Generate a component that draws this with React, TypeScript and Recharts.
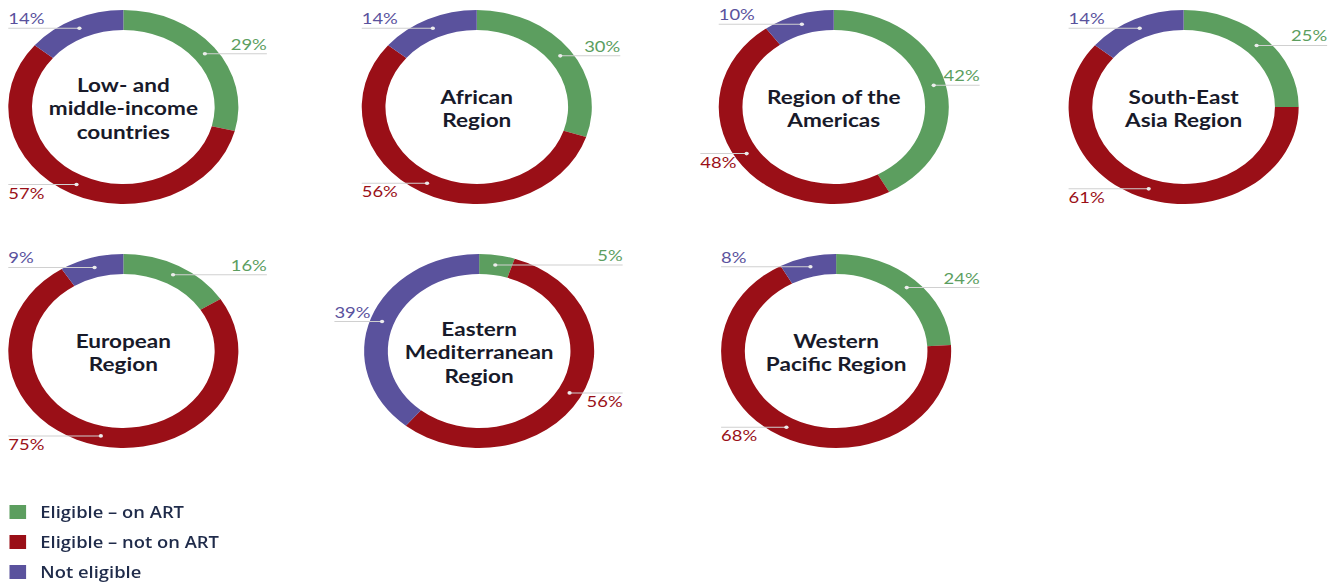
import React from 'react';
import { Cell, Legend, Pie, PieChart } from 'recharts';

// region titles, one entry per donut (line breaks as in the source)
const regions = [
  ['Low- and', 'middle-income', 'countries'],
  ['African', 'Region'],
  ['Region of the', 'Americas'],
  ['South-East', 'Asia Region'],
  ['European', 'Region'],
  ['Eastern', 'Mediterranean', 'Region'],
  ['Western', 'Pacific Region'],
];
const categories = ['Eligible – on ART', 'Eligible – not on ART', 'Not eligible'];
const onArt = [29, 30, 42, 25, 16, 5, 24];
const notOnArt = [57, 56, 48, 61, 75, 56, 68];
const notEligible = [14, 14, 10, 14, 9, 39, 8];

const COLORS = ['#5c9e5f', '#9a0f17', '#5a529d'];

// the source picture is stretched sideways, so the whole chart is too
const STRETCH = 1.186;
const W = Math.round(1336 / STRETCH);
const H = 584;
const centers = [
  [104, 107], [402, 107], [703, 107], [998, 107],
  [104, 351], [404, 351], [705, 351],
];
const OUTER = 97;
const INNER = 77;
const RAD = Math.PI / 180;

// half-width of the outer ring at a given vertical offset from the centre
const ringHalf = (dy: number, r: number) =>
  Math.abs(dy) >= r ? 0 : r * Math.sqrt(1 - (dy / r) ** 2);

function renderPct(props: any) {
  const { cx, cy, midAngle, innerRadius, outerRadius, value, index } = props;
  const r = (innerRadius + outerRadius) / 2;
  const x = cx + r * Math.cos(-midAngle * RAD);
  const y = cy + r * Math.sin(-midAngle * RAD);
  const right = x >= cx;
  const ty = y < cy ? y - 4 : y + 14;
  const tw = String(value).length * 7.5 + 12;
  const half = ringHalf(ty - 5 - cy, outerRadius);
  let tx: number;
  if (right) {
    tx = Math.max(cx + outerRadius + 24, cx + half + 4 + tw);
  } else {
    tx = Math.min(cx - outerRadius, cx - half - 6 - tw);
  }
  return (
    <g key={`lbl-${index}`}>
      <line x1={x} y1={y} x2={tx} y2={y} stroke="#d0d0d0" strokeWidth={1} />
      <circle cx={x} cy={y} r={1.8} fill="#ececec" />
      <text x={tx} y={ty} textAnchor={right ? 'end' : 'start'} fill={COLORS[index]} fontSize={15.5}>
        {value}%
      </text>
    </g>
  );
}

function LegendBox() {
  return (
    <div>
      {categories.map((c, i) => (
        <div key={c} style={{ display: 'flex', alignItems: 'center', height: 30 }}>
          <span style={{ width: 14, height: 14, background: COLORS[i], marginRight: 12 }} />
          <span style={{ fontSize: 15.5, fontWeight: 600, color: '#1f2b4a', fontFamily: '"Open Sans", sans-serif' }}>
            {c}
          </span>
        </div>
      ))}
    </div>
  );
}

export default function App() {
  return (
    <div
      style={{
        position: 'absolute', left: 0, top: 0, width: W, height: H, background: '#fff',
        transform: `scaleX(${STRETCH})`, transformOrigin: '0 0', fontFamily: 'Lato, sans-serif',
      }}
    >
      <PieChart width={W} height={H} margin={{ top: 0, right: 0, bottom: 0, left: 0 }}>
        {regions.map((lines, i) => {
          const data = [
            { name: categories[0], value: onArt[i] },
            { name: categories[1], value: notOnArt[i] },
            { name: categories[2], value: notEligible[i] },
          ];
          return (
            <Pie
              key={lines.join(' ')}
              data={data}
              dataKey="value"
              cx={centers[i][0]}
              cy={centers[i][1]}
              innerRadius={INNER}
              outerRadius={OUTER}
              startAngle={90}
              endAngle={-270}
              stroke="none"
              label={renderPct}
              labelLine={false}
              isAnimationActive={false}
            >
              {data.map((d, j) => (
                <Cell key={d.name} fill={COLORS[j]} />
              ))}
            </Pie>
          );
        })}
        <Legend
          content={() => <LegendBox />}
          wrapperStyle={{ position: 'absolute', left: 8, top: 497, width: 300, bottom: 'auto' }}
        />
      </PieChart>
      {regions.map((lines, i) => {
        const lh = 23.5;
        return (
          <div
            key={'t' + i}
            style={{
              position: 'absolute', left: centers[i][0] - 75, width: 150,
              top: centers[i][1] - (lines.length * lh) / 2 + 1,
              lineHeight: `${lh}px`, textAlign: 'center', fontSize: 19, fontWeight: 700,
              color: '#181a2a', pointerEvents: 'none',
            }}
          >
            {lines.map((l) => (
              <div key={l}>{l}</div>
            ))}
          </div>
        );
      })}
    </div>
  );
}
